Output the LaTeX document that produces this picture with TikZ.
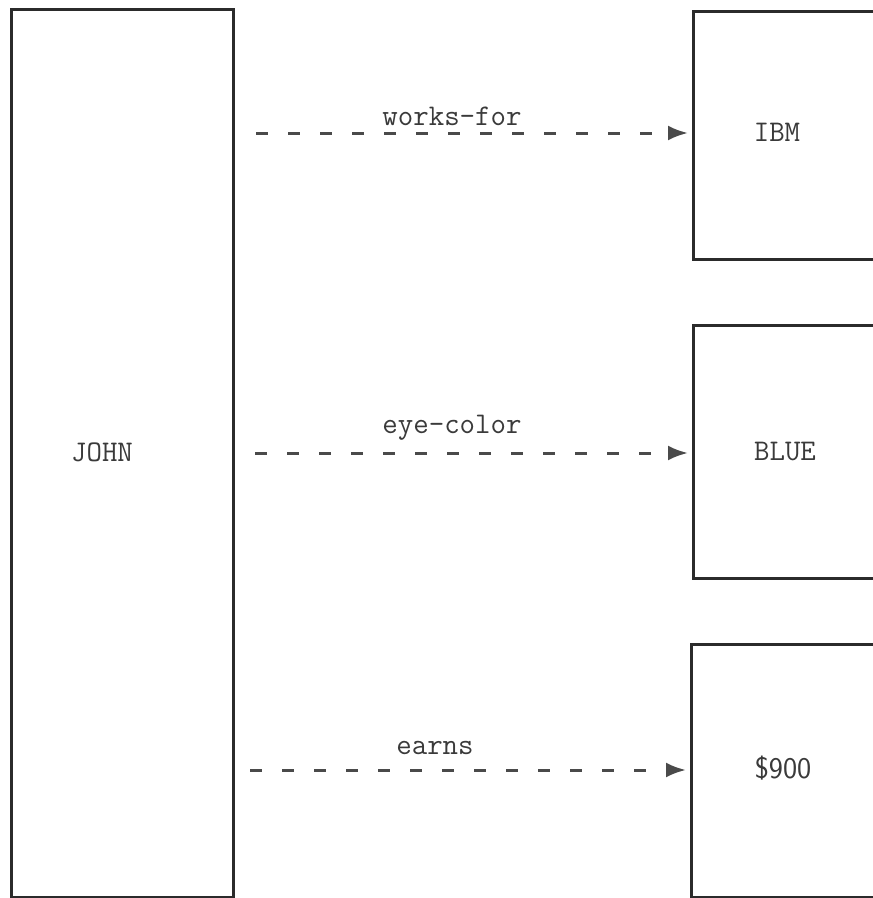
\documentclass[tikz,border=0pt]{standalone}
\usepackage{fontspec}
\setmonofont{Latin Modern Mono}
\setsansfont{Latin Modern Sans}
\usetikzlibrary{arrows.meta}
\definecolor{boxline}{HTML}{2B2B2B}
\definecolor{dashcol}{HTML}{4A4A4A}
\definecolor{txtcol}{HTML}{3A3A3A}
\begin{document}
\begin{tikzpicture}[x=1pt,y=-1pt,
  framebox/.style={draw=boxline,line width=2.6pt,fill=none,inner sep=0pt,anchor=north west},
  boxtext/.style={text=txtcol,font=\fontsize{30}{36}\selectfont\ttfamily,inner sep=0pt},
  rellabel/.style={text=txtcol,font=\fontsize{30}{36}\selectfont\ttfamily,inner sep=0pt},
  relarrow/.style={draw=dashcol,line width=3pt,dash pattern=on 12pt off 20pt,
    -{Latex[length=20pt,width=15pt,fill=dashcol]},shorten >=4pt}]
\useasboundingbox (0,0) rectangle (873,898);
\clip (0,0) rectangle (873,898);
\fill[white] (0,0) rectangle (873,898);
% boxes
\node[framebox,minimum width=222pt,minimum height=888pt] (john) at (10,8) {};
\node[framebox,minimum width=220pt,minimum height=248pt] (ibm) at (692,10) {};
\node[framebox,minimum width=220pt,minimum height=253pt] (blue) at (692,324) {};
\node[framebox,minimum width=222pt,minimum height=253pt] (money) at (690,643) {};
% box texts
\node[boxtext] (johnt) at (102,452) {JOHN};
\node[boxtext] (ibmt) at (777,132) {IBM};
\node[boxtext] (bluet) at (785,452) {BLUE};
\node[boxtext,font=\fontsize{30}{36}\selectfont\sffamily] (moneyt) at (783,768) {\$900};
% arrow start points
\coordinate (s1) at (256,133);
\coordinate (s2) at (255,453);
\coordinate (s3) at (250,770);
\draw[relarrow] (s1) -- (ibm.west |- s1);
\draw[relarrow] (s2) -- (blue.west |- s2);
\draw[relarrow] (s3) -- (money.west |- s3);
% relation labels
\node[rellabel] (l1) at (452,116) {works-for};
\node[rellabel] (l2) at (452,428) {eye-color};
\node[rellabel] (l3) at (435,748) {earns};
\end{tikzpicture}
\end{document}
